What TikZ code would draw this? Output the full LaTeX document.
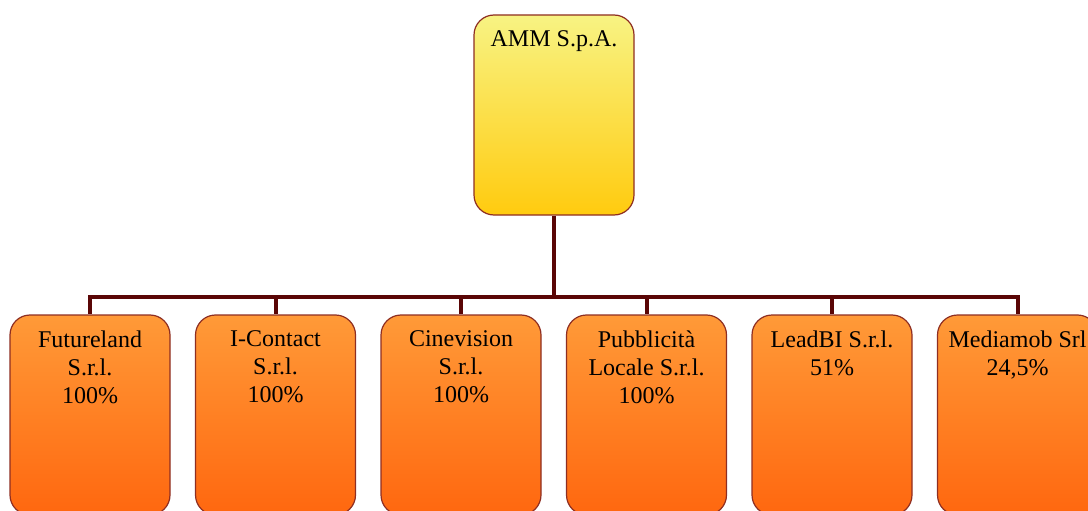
\documentclass[tikz,border=0pt]{standalone}
\usepackage{fontspec}
\setmainfont{Liberation Serif}
\definecolor{ylwtop}{HTML}{F8F383}
\definecolor{ylwbot}{HTML}{FFCB0F}
\definecolor{orgtop}{HTML}{FF9A38}
\definecolor{orgbot}{HTML}{FF670F}
\definecolor{boxline}{HTML}{8E2E22}
\definecolor{connline}{HTML}{5A0606}
\tikzset{
  orgbox/.style={draw=boxline, line width=1.2pt, rounded corners=20pt,
    minimum width=160pt, minimum height=200pt, inner sep=0pt},
  topbox/.style={orgbox, top color=ylwtop, bottom color=ylwbot},
  subbox/.style={orgbox, top color=orgtop, bottom color=orgbot},
  lbl/.style={anchor=north, inner sep=0pt, align=center, text=black,
    font=\fontsize{24}{28}\selectfont},
  conn/.style={draw=connline, line width=4pt}
}
\begin{document}
\begin{tikzpicture}[x=1pt,y=1pt]
\useasboundingbox (0,0) rectangle (1088,-511);
\node[topbox] (amm) at (554,-115) {};
\node[lbl] (ammt) at ([yshift=-16pt]amm.north) {AMM S.p.A.};
\coordinate (j) at (554,-297);
\draw[conn] (amm.south) -- (j);
\foreach \nm/\x/\txt in {
  fut/90/{Futureland\\S.r.l.\\100\%},
  ico/275.5/{I-Contact\\S.r.l.\\100\%},
  cin/461/{Cinevision\\S.r.l.\\100\%},
  pub/646.5/{Pubblicità\\Locale S.r.l.\\100\%},
  lea/832/{LeadBI S.r.l.\\51\%},
  med/1017.5/{Mediamob Srl\\24,5\%}} {
  \node[subbox] (\nm) at (\x,-415) {};
  \node[lbl] (\nm t) at ([yshift=-16pt]\nm.north) {\txt};
  \draw[conn] (j) -| (\nm.north);
}
\end{tikzpicture}
\end{document}
